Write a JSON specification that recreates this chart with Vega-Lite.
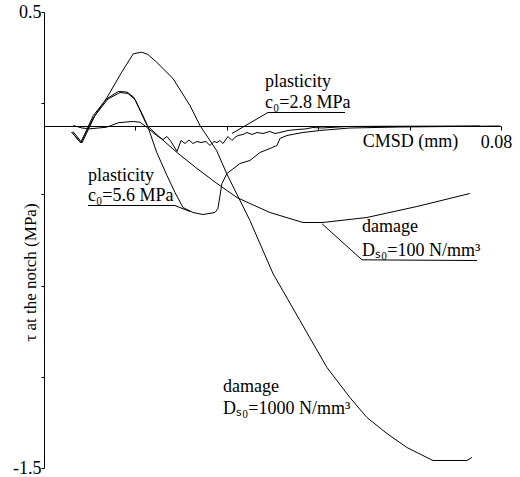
{
  "$schema": "https://vega.github.io/schema/vega-lite/v6.json",
  "width": 457,
  "height": 456,
  "autosize": {"type": "none"},
  "padding": {"left": 44, "top": 12, "right": 19, "bottom": 9},
  "background": "white",
  "config": {"view": {"stroke": null}, "font": "'Liberation Serif', 'Times New Roman', serif"},
  "datasets": {
    "curves": [
      {"series": "D1000", "x": 0.00485, "y": -0.0272},
      {"series": "D1000", "x": 0.00642, "y": -0.0737},
      {"series": "D1000", "x": 0.00858, "y": 0.0329},
      {"series": "D1000", "x": 0.01103, "y": 0.125},
      {"series": "D1000", "x": 0.0136, "y": 0.236},
      {"series": "D1000", "x": 0.01563, "y": 0.3167},
      {"series": "D1000", "x": 0.0171, "y": 0.3237},
      {"series": "D1000", "x": 0.0182, "y": 0.3136},
      {"series": "D1000", "x": 0.01972, "y": 0.2798},
      {"series": "D1000", "x": 0.02258, "y": 0.2083},
      {"series": "D1000", "x": 0.02555, "y": 0.0899},
      {"series": "D1000", "x": 0.0273, "y": 0.0022},
      {"series": "D1000", "x": 0.03022, "y": -0.1075},
      {"series": "D1000", "x": 0.03197, "y": -0.2083},
      {"series": "D1000", "x": 0.03605, "y": -0.4145},
      {"series": "D1000", "x": 0.04008, "y": -0.6469},
      {"series": "D1000", "x": 0.0448, "y": -0.8531},
      {"series": "D1000", "x": 0.04953, "y": -1.0592},
      {"series": "D1000", "x": 0.05355, "y": -1.1908},
      {"series": "D1000", "x": 0.05653, "y": -1.2785},
      {"series": "D1000", "x": 0.06003, "y": -1.3487},
      {"series": "D1000", "x": 0.06353, "y": -1.4101},
      {"series": "D1000", "x": 0.06808, "y": -1.4671},
      {"series": "D1000", "x": 0.07403, "y": -1.4671},
      {"series": "D1000", "x": 0.0749, "y": -1.4539},

      {"series": "D100", "x": 0.00485, "y": -0.0272},
      {"series": "D100", "x": 0.00642, "y": -0.0737},
      {"series": "D100", "x": 0.00863, "y": 0.0461},
      {"series": "D100", "x": 0.01098, "y": 0.1193},
      {"series": "D100", "x": 0.013, "y": 0.1513},
      {"series": "D100", "x": 0.01453, "y": 0.1491},
      {"series": "D100", "x": 0.01575, "y": 0.125},
      {"series": "D100", "x": 0.01698, "y": 0.0592},
      {"series": "D100", "x": 0.01803, "y": 0.0022},
      {"series": "D100", "x": 0.0203, "y": -0.0504},
      {"series": "D100", "x": 0.02328, "y": -0.1162},
      {"series": "D100", "x": 0.02678, "y": -0.1864},
      {"series": "D100", "x": 0.03028, "y": -0.2522},
      {"series": "D100", "x": 0.03378, "y": -0.3136},
      {"series": "D100", "x": 0.03605, "y": -0.3399},
      {"series": "D100", "x": 0.03955, "y": -0.3794},
      {"series": "D100", "x": 0.04533, "y": -0.4232},
      {"series": "D100", "x": 0.04883, "y": -0.4232},
      {"series": "D100", "x": 0.05653, "y": -0.4013},
      {"series": "D100", "x": 0.06528, "y": -0.3531},
      {"series": "D100", "x": 0.07455, "y": -0.2961},

      {"series": "P56", "x": 0.00508, "y": -0.0241},
      {"series": "P56", "x": 0.00665, "y": -0.0737},
      {"series": "P56", "x": 0.00893, "y": 0.0461},
      {"series": "P56", "x": 0.0112, "y": 0.1184},
      {"series": "P56", "x": 0.0133, "y": 0.1469},
      {"series": "P56", "x": 0.0147, "y": 0.1425},
      {"series": "P56", "x": 0.01593, "y": 0.1162},
      {"series": "P56", "x": 0.01715, "y": 0.0548},
      {"series": "P56", "x": 0.01811, "y": 0.0022},
      {"series": "P56", "x": 0.01972, "y": -0.1149},
      {"series": "P56", "x": 0.02153, "y": -0.2171},
      {"series": "P56", "x": 0.02293, "y": -0.2917},
      {"series": "P56", "x": 0.02433, "y": -0.3575},
      {"series": "P56", "x": 0.02608, "y": -0.3794},
      {"series": "P56", "x": 0.02783, "y": -0.3882},
      {"series": "P56", "x": 0.02993, "y": -0.3794},
      {"series": "P56", "x": 0.03045, "y": -0.3618},
      {"series": "P56", "x": 0.03115, "y": -0.2522},
      {"series": "P56", "x": 0.03203, "y": -0.2083},
      {"series": "P56", "x": 0.0343, "y": -0.1645},
      {"series": "P56", "x": 0.03605, "y": -0.1513},
      {"series": "P56", "x": 0.0378, "y": -0.1162},
      {"series": "P56", "x": 0.03955, "y": -0.0987},
      {"series": "P56", "x": 0.04078, "y": -0.0855},
      {"series": "P56", "x": 0.0413, "y": -0.0548},
      {"series": "P56", "x": 0.04253, "y": -0.0417},
      {"series": "P56", "x": 0.04533, "y": -0.0285},
      {"series": "P56", "x": 0.0483, "y": -0.0197},
      {"series": "P56", "x": 0.05355, "y": -0.0088},
      {"series": "P56", "x": 0.0623, "y": -0.0044},
      {"series": "P56", "x": 0.07105, "y": -0.0022},
      {"series": "P56", "x": 0.0798, "y": 0.0},

      {"series": "P28", "x": 0.00513, "y": 0.0022},
      {"series": "P28", "x": 0.00665, "y": -0.0088},
      {"series": "P28", "x": 0.00805, "y": -0.0123},
      {"series": "P28", "x": 0.01097, "y": -0.0053},
      {"series": "P28", "x": 0.013, "y": 0.014},
      {"series": "P28", "x": 0.01435, "y": 0.0175},
      {"series": "P28", "x": 0.01563, "y": 0.0197},
      {"series": "P28", "x": 0.0168, "y": 0.0167},
      {"series": "P28", "x": 0.01797, "y": -0.0053},
      {"series": "P28", "x": 0.01972, "y": -0.0417},
      {"series": "P28", "x": 0.02083, "y": -0.0592},
      {"series": "P28", "x": 0.02153, "y": -0.0461},
      {"series": "P28", "x": 0.02223, "y": -0.068},
      {"series": "P28", "x": 0.02328, "y": -0.1118},
      {"series": "P28", "x": 0.02398, "y": -0.0636},
      {"series": "P28", "x": 0.02468, "y": -0.0768},
      {"series": "P28", "x": 0.02538, "y": -0.0614},
      {"series": "P28", "x": 0.02608, "y": -0.0768},
      {"series": "P28", "x": 0.02678, "y": -0.068},
      {"series": "P28", "x": 0.02748, "y": -0.0724},
      {"series": "P28", "x": 0.02835, "y": -0.068},
      {"series": "P28", "x": 0.02905, "y": -0.0855},
      {"series": "P28", "x": 0.02975, "y": -0.068},
      {"series": "P28", "x": 0.03028, "y": -0.0724},
      {"series": "P28", "x": 0.0308, "y": -0.0636},
      {"series": "P28", "x": 0.03133, "y": -0.0768},
      {"series": "P28", "x": 0.0322, "y": -0.0461},
      {"series": "P28", "x": 0.0329, "y": -0.0636},
      {"series": "P28", "x": 0.03343, "y": -0.0504},
      {"series": "P28", "x": 0.03395, "y": -0.0417},
      {"series": "P28", "x": 0.03483, "y": -0.0373},
      {"series": "P28", "x": 0.03553, "y": -0.0285},
      {"series": "P28", "x": 0.0364, "y": -0.0373},
      {"series": "P28", "x": 0.03728, "y": -0.0285},
      {"series": "P28", "x": 0.03833, "y": -0.0329},
      {"series": "P28", "x": 0.03955, "y": -0.0241},
      {"series": "P28", "x": 0.04043, "y": -0.0329},
      {"series": "P28", "x": 0.0413, "y": -0.0285},
      {"series": "P28", "x": 0.0427, "y": -0.0197},
      {"series": "P28", "x": 0.04428, "y": -0.0154},
      {"series": "P28", "x": 0.04568, "y": -0.0132},
      {"series": "P28", "x": 0.04708, "y": -0.0066},
      {"series": "P28", "x": 0.04865, "y": -0.0088},
      {"series": "P28", "x": 0.05005, "y": -0.0066},
      {"series": "P28", "x": 0.05303, "y": -0.0022},
      {"series": "P28", "x": 0.0588, "y": -0.0013},
      {"series": "P28", "x": 0.0763, "y": 0.0},

      {"series": "L28", "x": 0.0329, "y": -0.0329},
      {"series": "L28", "x": 0.0392, "y": 0.0592},
      {"series": "L28", "x": 0.0527, "y": 0.0592},
      {"series": "L56", "x": 0.0077, "y": -0.3487},
      {"series": "L56", "x": 0.02293, "y": -0.3487},
      {"series": "L56", "x": 0.02556, "y": -0.375},
      {"series": "L100", "x": 0.04867, "y": -0.429},
      {"series": "L100", "x": 0.05567, "y": -0.587},
      {"series": "L100", "x": 0.0758, "y": -0.59}
    ],
    "labels": [
      {"x": 0.03868, "y": 0.1689, "t": "plasticity"},
      {"x": 0.03868, "y": 0.0768, "t": "c₀=2.8 MPa"},
      {"x": 0.0077, "y": -0.2434, "t": "plasticity"},
      {"x": 0.0077, "y": -0.3268, "t": "c₀=5.6 MPa"},
      {"x": 0.05567, "y": -0.4671, "t": "damage"},
      {"x": 0.05567, "y": -0.568, "t": "Dₛ₀=100 N/mm³"},
      {"x": 0.03133, "y": -1.1645, "t": "damage"},
      {"x": 0.03133, "y": -1.261, "t": "Dₛ₀=1000 N/mm³"}
    ]
  },
  "encoding": {
    "x": {
      "field": "x",
      "type": "quantitative",
      "scale": {"domain": [0, 0.08], "nice": false, "zero": false},
      "axis": {
        "orient": "bottom",
        "offset": -342,
        "grid": false,
        "values": [0.016, 0.032, 0.048, 0.064, 0.08],
        "labelExpr": "datum.value > 0.07 ? '0.08' : ''",
        "labelFont": "'Liberation Serif', 'Times New Roman', serif",
        "labelFontSize": 18,
        "labelColor": "black",
        "labelPadding": 3,
        "labelAlign": "center",
        "labelBaseline": "top",
        "labelOffset": -5,
        "labelFlush": false,
        "labelOverlap": false,
        "labelBound": false,
        "tickSize": 4,
        "tickColor": "black",
        "domainColor": "black",
        "title": "CMSD (mm)",
        "titleFont": "'Liberation Serif', 'Times New Roman', serif",
        "titleFontSize": 18,
        "titleFontWeight": "normal",
        "titleColor": "black",
        "titleX": 366,
        "titleY": 20,
        "titleAlign": "center",
        "titleBaseline": "alphabetic",
        "titleAngle": 0
      }
    },
    "y": {
      "field": "y",
      "type": "quantitative",
      "scale": {"domain": [-1.5, 0.5], "nice": false, "zero": false},
      "axis": {
        "orient": "left",
        "grid": false,
        "values": [-1.5, -1.1, -0.7, -0.3, 0.1, 0.5],
        "labelExpr": "datum.value > 0.3 ? '0.5' : (datum.value < -1.3 ? '-1.5' : '')",
        "labelFont": "'Liberation Serif', 'Times New Roman', serif",
        "labelFontSize": 18,
        "labelColor": "black",
        "labelPadding": 0,
        "labelOverlap": false,
        "labelFlush": false,
        "labelBound": false,
        "tickSize": 3,
        "tickColor": "black",
        "domainColor": "black",
        "title": "τ at the notch (MPa)",
        "titleFont": "'Liberation Serif', 'Times New Roman', serif",
        "titleFontSize": 17,
        "titleFontWeight": "normal",
        "titleColor": "black",
        "titleX": -9,
        "titleY": 260,
        "titleAngle": 270,
        "titleAlign": "center",
        "titleBaseline": "alphabetic"
      }
    }
  },
  "layer": [
    {
      "data": {"name": "curves"},
      "mark": {"type": "line", "color": "black", "strokeWidth": 1},
      "encoding": {"detail": {"field": "series", "type": "nominal"}}
    },
    {
      "data": {"name": "labels"},
      "mark": {"type": "text", "align": "left", "baseline": "alphabetic", "font": "'Liberation Serif', 'Times New Roman', serif", "fontSize": 18, "color": "black"},
      "encoding": {"text": {"field": "t", "type": "nominal"}}
    }
  ]
}
